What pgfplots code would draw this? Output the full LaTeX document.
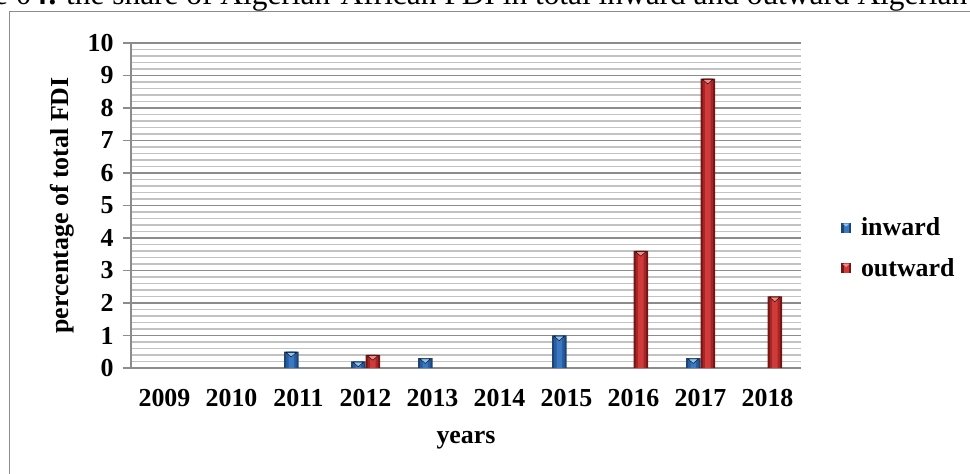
\documentclass[border=0pt]{standalone}
\usepackage{pgfplots}
\pgfplotsset{compat=1.18}
\usepackage{fontspec}
\setmainfont{Liberation Serif}

\definecolor{inDark}{HTML}{1B4477}
\definecolor{inHalf}{HTML}{285C9E}
\definecolor{inMid}{HTML}{3A78C4}
\definecolor{inTip}{HTML}{8EC5F5}
\definecolor{outDark}{HTML}{761414}
\definecolor{outHalf}{HTML}{A52626}
\definecolor{outMid}{HTML}{CF3A3A}
\definecolor{outTip}{HTML}{F28A8A}
\definecolor{gridMajor}{HTML}{8C8C8C}
\definecolor{gridMinor}{HTML}{C2C2C2}

\newcommand{\lblfont}{\fontsize{26}{30}\selectfont\bfseries}

% bar data
\newcommand{\inwardData}{(2,0.5) (3,0.2) (4,0.3) (6,1.0) (8,0.3)}
\newcommand{\outwardData}{(3,0.4) (7,3.6) (8,8.9) (9,2.2)}

\begin{document}
\begin{tikzpicture}
\useasboundingbox (0,0) rectangle (970bp,474bp);
\clip (0,0) rectangle (970bp,474bp);

% caption line above the chart frame
\node[anchor=base east, inner sep=0pt, font=\fontsize{31.5}{36}\selectfont] at (58bp,469bp) {Figure 0\textbf{4:}};
\node[anchor=base west, inner sep=0pt, font=\fontsize{31.5}{36}\selectfont] at (66bp,469bp)
  {the share of Algerian-African FDI in total inward and outward Algerian FDI};

% chart frame
\draw[gridMajor, line width=1bp] (9bp,-20bp) rectangle (1000bp,462bp);

\begin{axis}[
  at={(131bp,106bp)}, anchor=south west,
  scale only axis, width=670bp, height=325bp,
  xmin=-0.5, xmax=9.5, ymin=0, ymax=10,
  ybar,
  axis lines=left,
  axis line style={-, draw=gridMajor, line width=1.2bp},
  xtick={0,...,9},
  xticklabels={2009,2010,2011,2012,2013,2014,2015,2016,2017,2018},
  xtick style={draw=none},
  ytick={0,...,10},
  minor y tick num=4,
  ymajorgrids, yminorgrids,
  major grid style={draw=gridMajor, line width=1.2bp},
  minor grid style={draw=gridMinor, line width=1.2bp},
  tick align=outside,
  major tick length=8bp, minor tick length=0pt,
  ytick style={draw=gridMajor, line width=1.2bp},
  tick label style={font=\lblfont},
  /pgf/number format/assume math mode=true,
  xticklabel style={yshift=-10bp},
  yticklabel style={xshift=-6bp},
  xlabel={years}, ylabel={percentage of total FDI},
  label style={font=\lblfont},
  xlabel style={at={(axis description cs:0.5,-0.222)}, anchor=center},
  ylabel style={at={(axis description cs:-0.103,0.5)}, anchor=center},
  legend style={at={(axis description cs:1.055,0.37)}, anchor=west,
    draw=none, fill=none, font=\lblfont, row sep=17bp,
    legend cell align=left},
]
% ---- inward FDI share: dark outer bar, lighter core, highlight tip
\addplot[draw=none, fill=inDark, bar width=14.5bp, bar shift=-7.25bp,
  legend image code/.code={
    \fill[inDark] (0bp,-5bp) rectangle (10bp,5bp);
    \fill[inMid] (2.5bp,-5bp) rectangle (7.5bp,5bp);
    \fill[inTip] (1.5bp,4bp) -- (8.5bp,4bp) -- (5bp,1bp) -- cycle;
    \path (18bp,0bp);
  }]
  coordinates {\inwardData};
\addplot[forget plot, draw=none, fill=inHalf, bar width=10.5bp, bar shift=-7.25bp]
  coordinates {\inwardData};
\addplot[forget plot, draw=none, fill=inMid, bar width=5.5bp, bar shift=-7.25bp,
  mark=triangle*, mark size=6bp,
  mark options={draw=none, fill=inTip, xshift=-7.25bp, yshift=-2.2bp, rotate=180, yscale=0.5}]
  coordinates {\inwardData};
% ---- outward FDI share
\addplot[draw=none, fill=outDark, bar width=14.5bp, bar shift=7.25bp,
  legend image code/.code={
    \fill[outDark] (0bp,-5bp) rectangle (10bp,5bp);
    \fill[outMid] (2.5bp,-5bp) rectangle (7.5bp,5bp);
    \fill[outTip] (1.5bp,4bp) -- (8.5bp,4bp) -- (5bp,1bp) -- cycle;
    \path (18bp,0bp);
  }]
  coordinates {\outwardData};
\addplot[forget plot, draw=none, fill=outHalf, bar width=10.5bp, bar shift=7.25bp]
  coordinates {\outwardData};
\addplot[forget plot, draw=none, fill=outMid, bar width=5.5bp, bar shift=7.25bp,
  mark=triangle*, mark size=6bp,
  mark options={draw=none, fill=outTip, xshift=7.25bp, yshift=-2.2bp, rotate=180, yscale=0.5}]
  coordinates {\outwardData};
\legend{inward, outward}
\end{axis}
\end{tikzpicture}
\end{document}
